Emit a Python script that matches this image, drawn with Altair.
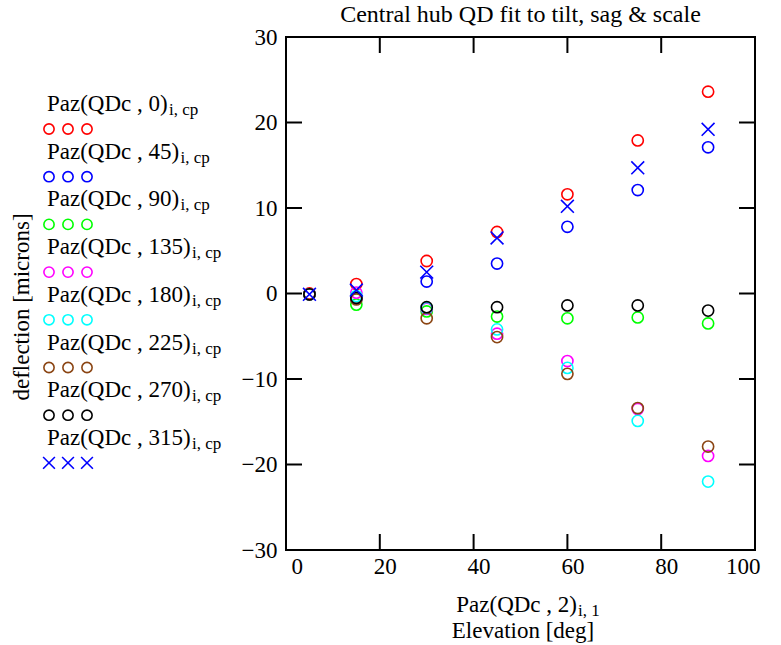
import altair as alt
import pandas as pd

# ---------------- data ----------------
elevation = [5, 15, 30, 45, 60, 75, 90]
az_labels = ["0", "45", "90", "135", "180", "225", "270", "315"]
az0 = [0.0, 1.1, 3.8, 7.2, 11.6, 17.9, 23.6]
az45 = [-0.1, -0.6, 1.4, 3.5, 7.8, 12.1, 17.1]
az90 = [-0.1, -1.3, -2.1, -2.7, -2.9, -2.8, -3.5]
az135 = [-0.1, 0.1, -1.8, -4.7, -7.9, -13.5, -19.0]
az180 = [-0.1, -0.3, -1.7, -4.2, -8.7, -14.9, -22.0]
az225 = [-0.1, -0.7, -2.9, -5.1, -9.4, -13.4, -17.9]
az270 = [-0.1, -0.5, -1.6, -1.6, -1.4, -1.4, -2.0]
az315 = [-0.1, 0.4, 2.5, 6.5, 10.2, 14.7, 19.2]
series_values = [az0, az45, az90, az135, az180, az225, az270, az315]

colors = ["#ff0000", "#0000ff", "#00ff00", "#ff00ff", "#00ffff",
          "#8b4513", "#000000", "#0000ff"]
XSHAPE = "M-1.15,-1.15L1.15,1.15M-1.15,1.15L1.15,-1.15"
shapes = ["circle"] * 7 + [XSHAPE]

x_ticks = [0, 20, 40, 60, 80, 100]
y_ticks = [-30, -20, -10, 0, 10, 20, 30]

title_text = "Central hub QD fit to tilt, sag & scale"
y_title = "deflection [microns]"
x_title_main = "Paz(QDc , 2)"
x_title_sub = "i, 1"
x_title_2 = "Elevation [deg]"
legend_sub = "i, cp"

# ---------------- tables ----------------
rows = []
for i, (az, vals) in enumerate(zip(az_labels, series_values)):
    for e, v in zip(elevation, vals):
        rows.append({"order": i, "series": az, "elev": e, "defl": v})
df = pd.DataFrame(rows)

leg = pd.DataFrame({"idx": list(range(len(az_labels))),
                    "series": az_labels,
                    "label": ["Paz(QDc , %s)" % a for a in az_labels],
                    "sub": [legend_sub] * len(az_labels)})
leg_marks = pd.DataFrame([{"idx": i, "k": k, "series": a}
                          for i, a in enumerate(az_labels) for k in range(3)])

W, H = 469, 513
FONT = "'Liberation Serif', 'Times New Roman', Times, serif"
FS = 23
ROW = 47.7

xs = alt.Scale(domain=[0, 100], nice=False, zero=False)
ys = alt.Scale(domain=[-30, 30], nice=False, zero=False)
x_axis = alt.Axis(values=x_ticks, ticks=False, domain=False, grid=False,
                  labelFont=FONT, labelFontSize=FS, labelColor="black",
                  labelPadding=5, labelOffset=5, title=None)
y_axis = alt.Axis(values=y_ticks, ticks=False, domain=False, grid=False,
                  labelFont=FONT, labelFontSize=FS, labelColor="black",
                  labelPadding=9, title=None)
cscale = alt.Scale(domain=az_labels, range=colors)
sscale = alt.Scale(domain=az_labels, range=shapes)

points = alt.Chart(df).mark_point(filled=False, size=125, strokeWidth=1.6, opacity=1).encode(
    x=alt.X("elev:Q", scale=xs, axis=x_axis),
    y=alt.Y("defl:Q", scale=ys, axis=y_axis),
    color=alt.Color("series:N", scale=cscale, legend=None),
    shape=alt.Shape("series:N", scale=sscale, legend=None),
    order=alt.Order("order:Q"),
)

xt = pd.DataFrame({"t": x_ticks})
yt = pd.DataFrame({"t": y_ticks})
TL = 16
rule = dict(color="black", strokeWidth=2)
bottom = alt.Chart(xt).mark_rule(**rule).encode(
    x=alt.X("t:Q", scale=xs, axis=x_axis), y=alt.value(H), y2=alt.value(H - TL))
top = alt.Chart(xt).mark_rule(**rule).encode(
    x=alt.X("t:Q", scale=xs, axis=x_axis), y=alt.value(0), y2=alt.value(TL))
left = alt.Chart(yt).mark_rule(**rule).encode(
    y=alt.Y("t:Q", scale=ys, axis=y_axis), x=alt.value(0), x2=alt.value(TL))
right = alt.Chart(yt).mark_rule(**rule).encode(
    y=alt.Y("t:Q", scale=ys, axis=y_axis), x=alt.value(W), x2=alt.value(W - TL))

# legend (left of plot)
leg_text = alt.Chart(leg).transform_calculate(
    ty="74 + datum.idx * %f" % ROW
).mark_text(font=FONT, fontSize=FS, align="left", baseline="alphabetic", color="black").encode(
    x=alt.value(-239), y=alt.Y("ty:Q", scale=None), text="label:N")
leg_sub = alt.Chart(leg).transform_calculate(
    ty="78 + datum.idx * %f" % ROW,
    sx="-117 + (length(datum.label) - 12) * 11.5"
).mark_text(font=FONT, fontSize=17, align="left", baseline="alphabetic", color="black").encode(
    x=alt.X("sx:Q", scale=None), y=alt.Y("ty:Q", scale=None), text="sub:N")
leg_pts = alt.Chart(leg_marks).transform_calculate(
    my="92 + datum.idx * %f" % ROW,
    mx="-237 + datum.k * 19"
).mark_point(filled=False, size=105, strokeWidth=1.6, opacity=1).encode(
    x=alt.X("mx:Q", scale=None), y=alt.Y("my:Q", scale=None),
    color=alt.Color("series:N", scale=cscale, legend=None),
    shape=alt.Shape("series:N", scale=sscale, legend=None))

def label(txt, x, y, size=FS, align="left", angle=0):
    return alt.Chart(pd.DataFrame({"t": [txt]})).mark_text(
        font=FONT, fontSize=size, align=align, baseline="alphabetic",
        color="black", angle=angle).encode(
        text="t:N", x=alt.value(x), y=alt.value(y))

ttl = label(title_text, W / 2, -15, size=24, align="center")
xt1 = label(x_title_main, 291, 575, align="right")
xt1s = label(x_title_sub, 292, 579, size=17)
xt2 = label(x_title_2, 237, 601, align="center")
ytl = alt.Chart(pd.DataFrame({"t": [y_title]})).mark_text(
    font=FONT, fontSize=FS, align="center", baseline="middle",
    color="black", angle=270).encode(
    text="t:N", x=alt.value(-264), y=alt.value(270))

chart = alt.layer(
    points, bottom, top, left, right,
    leg_text, leg_sub, leg_pts, ttl, xt1, xt1s, xt2, ytl
).properties(
    width=W, height=H,
    autosize=alt.AutoSizeParams(type="none"),
    padding={"left": 286, "top": 37, "right": 26, "bottom": 95},
    background="white",
).configure_view(stroke="black", strokeWidth=2)

chart.save("out.html", embed_options={"renderer": "svg", "actions": False})
